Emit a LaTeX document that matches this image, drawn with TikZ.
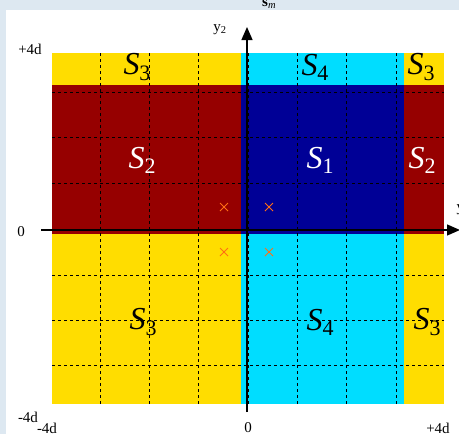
\documentclass[tikz,border=0pt]{standalone}
\usepackage{fontspec}
\setmainfont{Liberation Serif}
\usetikzlibrary{arrows.meta}

\definecolor{panelblue}{RGB}{221,232,241}
\definecolor{regyellow}{RGB}{255,221,0}
\definecolor{regcyan}{RGB}{0,221,255}
\definecolor{regred}{RGB}{150,0,0}
\definecolor{regblue}{RGB}{0,0,150}
\definecolor{markorange}{RGB}{255,110,20}

\newcommand{\reglabel}[1]{\textit{S}\raisebox{-0.35ex}{\fontsize{22}{22}\selectfont #1}}

\begin{document}
\begin{tikzpicture}[
  x=1pt,y=-1pt,
  >={Triangle[length=13pt,width=11pt]},
  grid/.style={dash pattern=on 3pt off 3pt,line width=0.9pt},
  axis/.style={line width=1.3pt,->},
  region/.style={font=\fontsize{32}{34}\selectfont},
  tick/.style={font=\fontsize{15}{16}\selectfont},
  cross/.style={markorange,line width=0.8pt}
]
  \useasboundingbox (0,0) rectangle (459,434);
  \fill[panelblue] (0,0) rectangle (459,434);
  \fill[white] (6,10) rectangle (459,434);
  \node[anchor=base west,inner sep=0pt,font=\fontsize{15}{16}\selectfont] (title) at (262,6) {\textbf{s}\textsubscript{\textit{m}}};

  % decision regions
  \fill[regyellow] (52,53) rectangle (241,85);
  \fill[regcyan] (241,53) rectangle (404,85);
  \fill[regyellow] (404,53) rectangle (444,85);
  \fill[regred] (52,85) rectangle (241,234);
  \fill[regblue] (241,85) rectangle (404,234);
  \fill[regred] (404,85) rectangle (444,234);
  \fill[regyellow] (52,234) rectangle (241,404);
  \fill[regcyan] (241,234) rectangle (404,404);
  \fill[regyellow] (404,234) rectangle (444,404);

  % grid
  \foreach \gx in {100,149,198,248,297,346,396}
    \draw[grid] (\gx,53) -- (\gx,404);
  \foreach \gy in {92,137,183,229,275,320,365}
    \draw[grid] (52,\gy) -- (444,\gy);

  % axes
  \coordinate (xstart) at (41,230);
  \coordinate (xend) at (460,230);
  \coordinate (ystart) at (247,412);
  \coordinate (yend) at (247,27);
  \draw[axis] (xstart) -- (xend);
  \draw[axis] (ystart) -- (yend);
  \node[tick,anchor=west] (ylabel1) at (453,210) {y\textsubscript{1}};
  \node[tick] (ylabel2) at (220,30) {y\textsubscript{2}};

  % symbols
  \foreach \mx/\my in {224/207,269/207,224/252,269/252}
    \draw[cross] (\mx-4,\my-4) -- (\mx+4,\my+4) (\mx-4,\my+4) -- (\mx+4,\my-4);

  % ticks
  \node[tick] (ytop) at (30,49) {+4d};
  \node[tick] (yzero) at (21,232) {0};
  \node[tick] (ybottom) at (28,417) {-4d};
  \node[tick] (xleft) at (47,428) {-4d};
  \node[tick] (xzero) at (248,428) {0};
  \node[tick] (xright) at (438,428) {+4d};

  % region names
  \node[region] (s3a) at (137,67) {\reglabel{3}};
  \node[region] (s4a) at (315,67) {\reglabel{4}};
  \node[region] (s3b) at (421,67) {\reglabel{3}};
  \node[region,white] (s2a) at (142,160) {\reglabel{2}};
  \node[region,white] (s1) at (320,160) {\reglabel{1}};
  \node[region,white] (s2b) at (422,160) {\reglabel{2}};
  \node[region] (s3c) at (143,322) {\reglabel{3}};
  \node[region] (s4b) at (320,322) {\reglabel{4}};
  \node[region] (s3d) at (427,322) {\reglabel{3}};
\end{tikzpicture}
\end{document}
